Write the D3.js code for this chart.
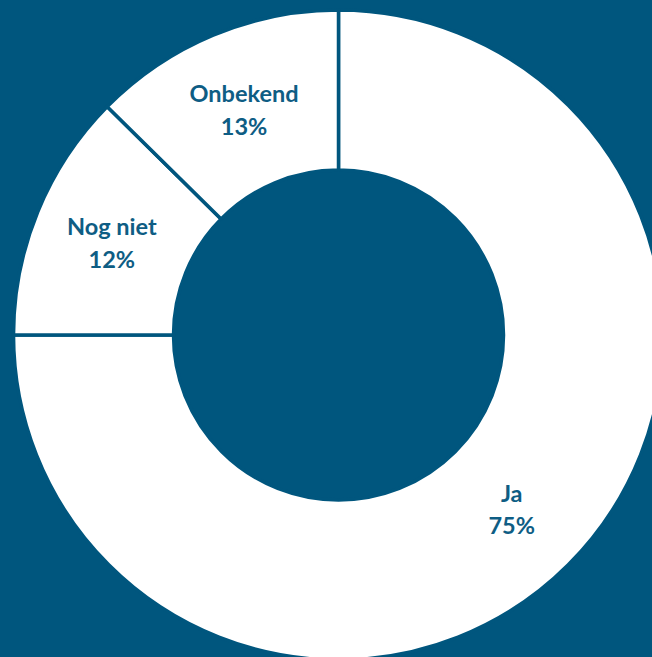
<!DOCTYPE html>
<html>
<head>
<meta charset="utf-8">
<title>Donut</title>
<script src="https://d3js.org/d3.v7.min.js"></script>
<style>
  html, body { margin: 0; padding: 0; background: #00567e; }
  svg { display: block; }
  .lbl { font-family: Lato, 'Open Sans', sans-serif; font-weight: 700; font-size: 23.5px; fill: #0e5d84; }
</style>
</head>
<body>
<script>
// data
var categories = ["Ja", "Nog niet", "Onbekend"];
var values = [75, 12.4, 12.6];
var pctLabels = ["75%", "12%", "13%"];

var width = 652, height = 657;
var bg = "#00567e";
var cx = 338.5, cy = 335, outerR = 325, innerR = 165;

var svg = d3.select("body").append("svg")
    .attr("width", width)
    .attr("height", height);

var g = svg.append("g")
    .attr("transform", "translate(" + cx + "," + cy + ")");

var pie = d3.pie().sort(null).value(function(d) { return d; });
var arc = d3.arc().innerRadius(innerR).outerRadius(outerR);

var arcs = pie(values);

g.selectAll("path")
    .data(arcs)
    .enter().append("path")
    .attr("d", arc)
    .attr("fill", "#ffffff")
    .attr("stroke", bg)
    .attr("stroke-width", 3.5);

var lbl = g.selectAll(".lbl")
    .data(arcs)
    .enter().append("text")
    .attr("class", "lbl")
    .attr("text-anchor", "middle")
    .attr("transform", function(d) { return "translate(" + arc.centroid(d) + ")"; });

lbl.append("tspan")
    .attr("x", 0)
    .attr("y", -6.5)
    .text(function(d, i) { return categories[i]; });
lbl.append("tspan")
    .attr("x", 0)
    .attr("y", 26)
    .text(function(d, i) { return pctLabels[i]; });
</script>
</body>
</html>
